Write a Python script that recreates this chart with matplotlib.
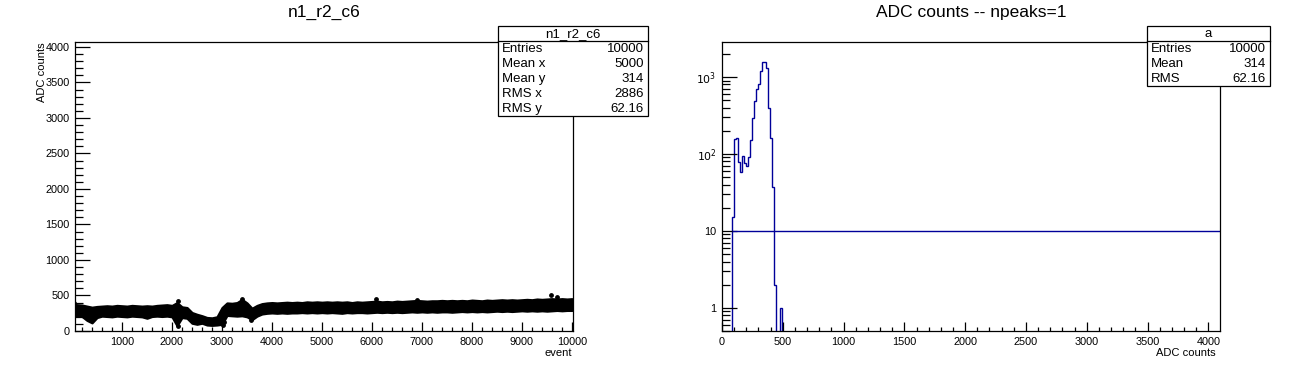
import numpy as np
import matplotlib.pyplot as plt
from matplotlib.ticker import MultipleLocator, LogLocator, NullFormatter, FuncFormatter
from matplotlib.patches import Rectangle

plt.rcParams['font.family'] = ['Liberation Sans', 'DejaVu Sans']

# ---- left pad: ADC value vs event, read as a band (low / high edge every 100 events)
event_steps = np.arange(0, 10001, 100)
band_lo = [220, 210, 205, 150, 115, 190, 210, 205, 200, 210,
           205, 200, 210, 205, 200, 180, 205, 210, 205, 210,
           200, 75, 190, 180, 110, 95, 110, 85, 80, 85,
           95, 220, 215, 210, 215, 200, 160, 210, 240, 250,
           255, 250, 255, 250, 255, 255, 260, 255, 260, 255,
           260, 255, 260, 255, 250, 260, 255, 260, 260, 255,
           260, 265, 260, 265, 260, 265, 260, 265, 270, 265,
           270, 265, 270, 265, 270, 270, 265, 270, 275, 270,
           275, 270, 275, 270, 275, 280, 275, 280, 275, 280,
           285, 280, 285, 280, 285, 280, 285, 290, 285, 290,
           290]
band_hi = [380, 370, 365, 350, 335, 345, 350, 355, 350, 360,
           355, 350, 360, 355, 350, 355, 350, 360, 365, 370,
           360, 400, 340, 330, 260, 235, 215, 190, 185, 200,
           330, 395, 390, 400, 445, 395, 320, 360, 385, 395,
           400, 395, 400, 405, 400, 405, 400, 410, 405, 410,
           405, 410, 405, 410, 405, 410, 400, 410, 405, 410,
           415, 420, 410, 415, 410, 420, 415, 420, 425, 430,
           425, 420, 425, 425, 430, 425, 430, 425, 430, 425,
           435, 430, 425, 435, 430, 435, 440, 435, 440, 435,
           440, 445, 440, 450, 445, 450, 455, 450, 455, 450,
           455]
spike_event = [40, 2110, 2125, 3010, 3030, 3390, 3570, 6080, 6900, 9580, 9700]
spike_adc = [400, 420, 70, 90, 130, 450, 150, 445, 440, 505, 480]

# ---- right pad: ADC histogram, 250 bins over 0..4096
n_bins = 250
adc_max = 4096
first_bin = 5
bin_counts = [15, 155, 163, 78, 58, 93, 76, 70, 90, 150, 290, 490, 700, 800,
              1200, 1550, 1550, 1300, 390, 160, 37, 2, 0, 0, 1]
threshold = 10

W, H = 1296, 372
fig = plt.figure(figsize=(W / 100, H / 100), dpi=100)


def px_axes(x0, y0, x1, y1):
    return fig.add_axes([x0 / W, 1 - y1 / H, (x1 - x0) / W, (y1 - y0) / H])


def fx(x):
    return x / W


def fy(y):
    return 1 - y / H


def stats_box(x0, x1, y0, title, rows):
    row_h = 14.8
    y1 = y0 + 16 + row_h * len(rows)
    fig.patches.append(Rectangle((fx(x0), fy(y1)), fx(x1 - x0), (y1 - y0) / H,
                                 transform=fig.transFigure, facecolor='white',
                                 edgecolor='black', lw=0.9, zorder=5))
    fig.add_artist(plt.Line2D([fx(x0), fx(x1)], [fy(y0 + 15), fy(y0 + 15)],
                              transform=fig.transFigure, color='black', lw=0.9, zorder=6))
    fig.text(fx((x0 + x1) / 2), fy(y0 + 8), title, ha='center', va='center', fontsize=9.5, zorder=7)
    for i, (k, v) in enumerate(rows):
        yc = y0 + 16 + row_h * (i + 0.5)
        fig.text(fx(x0 + 4), fy(yc), k, ha='left', va='center', fontsize=9.5, zorder=7)
        fig.text(fx(x1 - 4), fy(yc), v, ha='right', va='center', fontsize=9.5, zorder=7)


def root_style(ax, ylen, xlen):
    for s in ax.spines.values():
        s.set_linewidth(0.9)
    ax.tick_params(which='both', direction='in', top=False, right=False,
                   labelsize=7.8, width=0.9)
    ax.tick_params(axis='y', which='major', length=ylen, pad=4)
    ax.tick_params(axis='y', which='minor', length=ylen / 2)
    ax.tick_params(axis='x', which='major', length=xlen, pad=4)
    ax.tick_params(axis='x', which='minor', length=xlen / 2)


# left pad
ax1 = px_axes(75, 42, 573, 331)
ax1.fill_between(event_steps, band_lo, band_hi, facecolor='black', edgecolor='black', lw=1.6)
ax1.scatter(spike_event, spike_adc, s=6, color='black')
ax1.set_xlim(60, 10020)
ax1.set_ylim(0, 4070)
ax1.xaxis.set_major_locator(MultipleLocator(1000))
ax1.xaxis.set_minor_locator(MultipleLocator(200))
ax1.yaxis.set_major_locator(MultipleLocator(500))
ax1.yaxis.set_minor_locator(MultipleLocator(100))
root_style(ax1, 10.8, 6.3)

fig.text(fx(324), fy(12), 'n1_r2_c6', ha='center', va='center', fontsize=12.5)
fig.text(fx(42), fy(42), 'ADC counts', rotation=90, ha='center', va='top', fontsize=8)
fig.text(fx(572), fy(353), 'event', ha='right', va='center', fontsize=8)
stats_box(498, 648, 26, 'n1_r2_c6',
          [('Entries', '10000'), ('Mean x', '5000'), ('Mean y', '314'),
           ('RMS x', '2886'), ('RMS y', '62.16')])

# right pad
counts = np.zeros(n_bins)
counts[first_bin:first_bin + len(bin_counts)] = bin_counts
edges = np.linspace(0, adc_max, n_bins + 1)
plot_counts = np.where(counts > 0, counts, 1e-3)

ax2 = px_axes(722, 42, 1220, 331)
ax2.stairs(plot_counts, edges, color='#000099', lw=1.0, baseline=None)
ax2.hlines(threshold, edges[first_bin], adc_max, color='#000099', lw=1.0)
ax2.set_yscale('log')
ax2.set_ylim(0.5, 2850)
ax2.set_xlim(0, adc_max)
ax2.xaxis.set_major_locator(MultipleLocator(500))
ax2.xaxis.set_minor_locator(MultipleLocator(100))
ax2.yaxis.set_major_locator(LogLocator(base=10))
ax2.yaxis.set_minor_locator(LogLocator(base=10, subs=np.arange(2, 10)))
ax2.yaxis.set_minor_formatter(NullFormatter())


def log_label(v, pos):
    n = int(round(np.log10(v)))
    if n == 0:
        return '1'
    if n == 1:
        return '10'
    return r'$10^{%d}$' % n


ax2.yaxis.set_major_formatter(FuncFormatter(log_label))
root_style(ax2, 10.8, 6.3)

fig.text(fx(971), fy(12), 'ADC counts -- npeaks=1', ha='center', va='center', fontsize=12.5)
fig.text(fx(1216), fy(353), 'ADC counts', ha='right', va='center', fontsize=8)
stats_box(1147, 1270, 26, 'a',
          [('Entries', '10000'), ('Mean', '314'), ('RMS', '62.16')])

fig.savefig('out.png', dpi=100)
